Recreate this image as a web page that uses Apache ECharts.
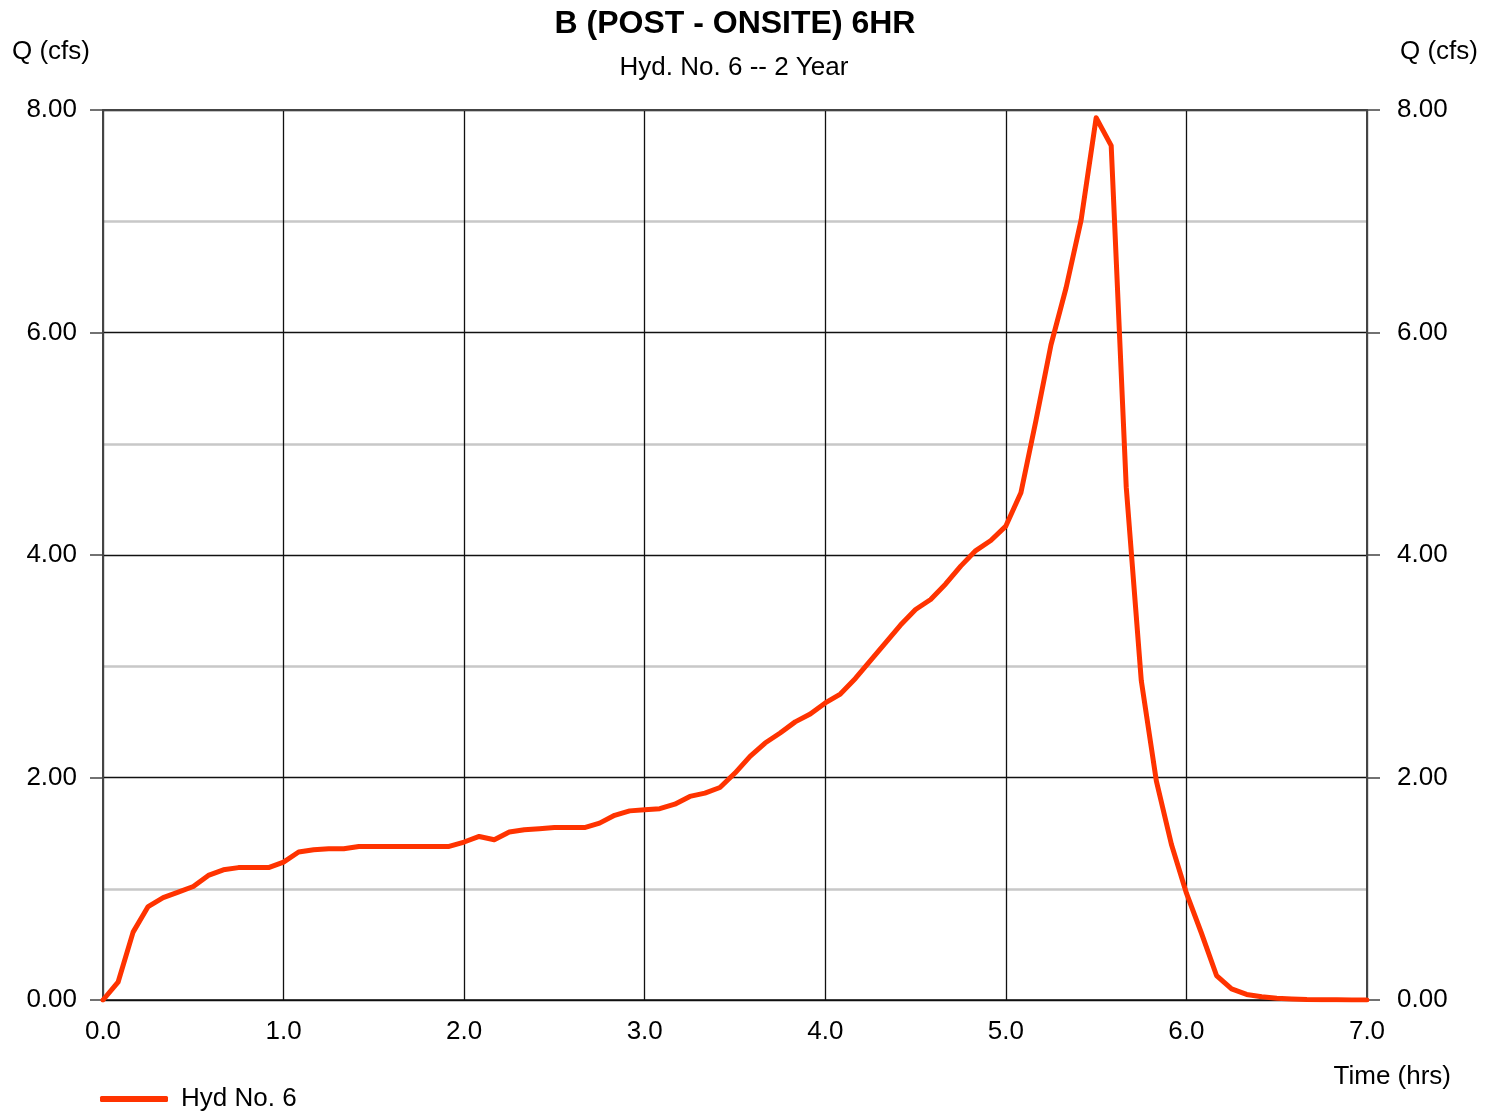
<!DOCTYPE html>
<html>
<head>
<meta charset="utf-8">
<script src="https://cdn.jsdelivr.net/npm/echarts@6/dist/echarts.min.js"></script>
<style>
  html, body { margin: 0; padding: 0; background: #fff; }
  #chart { width: 1496px; height: 1112px; }
</style>
</head>
<body>
<div id="chart"></div>
<script>
// ---- Data ----
const chartTitle = "B (POST - ONSITE) 6HR";
const chartSubtitle = "Hyd. No. 6 -- 2 Year";
const seriesName = "Hyd No. 6";
const yAxisName = "Q (cfs)";
const xAxisName = "Time (hrs)";

// Hydrograph ordinates at a 5-minute time step (hrs = index * 5/60)
const timeStepHrs = 5 / 60;
const flowCfs = [
  0.00, 0.16, 0.61, 0.84, 0.92, 0.97, 1.02, 1.12, 1.17, 1.19,
  1.19, 1.19, 1.24, 1.33, 1.35, 1.36, 1.36, 1.38, 1.38, 1.38,
  1.38, 1.38, 1.38, 1.38, 1.42, 1.47, 1.44, 1.51, 1.53, 1.54,
  1.55, 1.55, 1.55, 1.59, 1.66, 1.70, 1.71, 1.72, 1.76, 1.83,
  1.86, 1.91, 2.04, 2.19, 2.31, 2.40, 2.50, 2.57, 2.67, 2.75,
  2.89, 3.05, 3.21, 3.37, 3.51, 3.60, 3.74, 3.90, 4.04, 4.13,
  4.26, 4.56, 5.21, 5.89, 6.40, 7.01, 7.93, 7.68, 4.61, 2.87,
  1.97, 1.40, 0.96, 0.60, 0.22, 0.10, 0.05, 0.03, 0.015, 0.01,
  0.005, 0.003, 0.002, 0.001, 0.00
];
const timeHrs = flowCfs.map((_, i) => i * timeStepHrs);

const xTickMin = 0, xTickMax = 7, xTickStep = 1;
const yTickMin = 0, yTickMax = 8, yTickStep = 2;

// ---- Chart ----
const FONT = '"Liberation Sans", Arial, sans-serif';
const chart = echarts.init(document.getElementById('chart'), null, { renderer: 'canvas' });

const yAxisCommon = {
  type: 'value',
  min: yTickMin, max: yTickMax, interval: yTickStep,
  axisLine: { show: true, onZero: false, lineStyle: { color: '#444', width: 2 } },
  axisTick: { show: true, inside: false, length: 13, lineStyle: { color: '#444', width: 1.5 } },
  axisLabel: { color: '#000', fontFamily: FONT, fontSize: 26, padding: [6, 0, 0, 0],
               formatter: v => v.toFixed(2) }
};

chart.setOption({
  animation: false,
  backgroundColor: '#ffffff',
  title: [
    { text: chartTitle, left: 730, top: 3, textAlign: 'center',
      textStyle: { fontFamily: FONT, fontSize: 32, fontWeight: 'bold', color: '#000' } },
    { text: chartSubtitle, left: 729, top: 50, textAlign: 'center',
      textStyle: { fontFamily: FONT, fontSize: 26, fontWeight: 'normal', color: '#000' } }
  ],
  grid: { left: 103, right: 129, top: 110, height: 890, containLabel: false },
  legend: {
    left: 100, top: 1086, padding: 0,
    icon: 'roundRect', itemWidth: 68, itemHeight: 6,
    textStyle: { fontFamily: FONT, fontSize: 26, color: '#000', padding: [0, 0, 0, 8] },
    data: [seriesName]
  },
  xAxis: [
    {
      type: 'value', position: 'bottom',
      min: xTickMin, max: xTickMax, interval: xTickStep,
      axisLine: { show: true, onZero: false, lineStyle: { color: '#111', width: 1.5 } },
      axisTick: { show: false },
      axisLabel: { color: '#000', fontFamily: FONT, fontSize: 26, margin: 19,
                   formatter: v => v.toFixed(1) },
      splitLine: { show: true, lineStyle: { color: '#111', width: 1.3 } }
    },
    {
      type: 'value', position: 'top',
      min: xTickMin, max: xTickMax, interval: xTickStep,
      axisLine: { show: true, onZero: false, lineStyle: { color: '#444', width: 2 } },
      axisTick: { show: false }, axisLabel: { show: false }, splitLine: { show: false }
    }
  ],
  yAxis: [
    Object.assign({}, yAxisCommon, {
      position: 'left',
      axisLabel: Object.assign({}, yAxisCommon.axisLabel, { margin: 26 }),
      splitLine: { show: true, lineStyle: { color: '#111', width: 1.3 } },
      minorTick: { show: false, splitNumber: 2 },
      minorSplitLine: { show: true, lineStyle: { color: '#c8c8c8', width: 2.5 } }
    }),
    Object.assign({}, yAxisCommon, {
      position: 'right',
      axisLabel: Object.assign({}, yAxisCommon.axisLabel, { margin: 30 }),
      splitLine: { show: false }
    })
  ],
  graphic: [
    { type: 'text', left: 12, top: 39,
      style: { text: yAxisName, font: '26px ' + FONT, fill: '#000' } },
    { type: 'text', right: 18, top: 39,
      style: { text: yAxisName, font: '26px ' + FONT, fill: '#000' } },
    { type: 'text', right: 45, top: 1064,
      style: { text: xAxisName, font: '26px ' + FONT, fill: '#000' } }
  ],
  series: [{
    name: seriesName,
    type: 'line',
    xAxisIndex: 0, yAxisIndex: 0,
    data: timeHrs.map((t, i) => [t, flowCfs[i]]),
    showSymbol: false, symbol: 'none',
    itemStyle: { color: '#ff3300' },
    lineStyle: { color: '#ff3300', width: 5, cap: 'round', join: 'round' },
    z: 5
  }]
});
</script>
</body>
</html>
